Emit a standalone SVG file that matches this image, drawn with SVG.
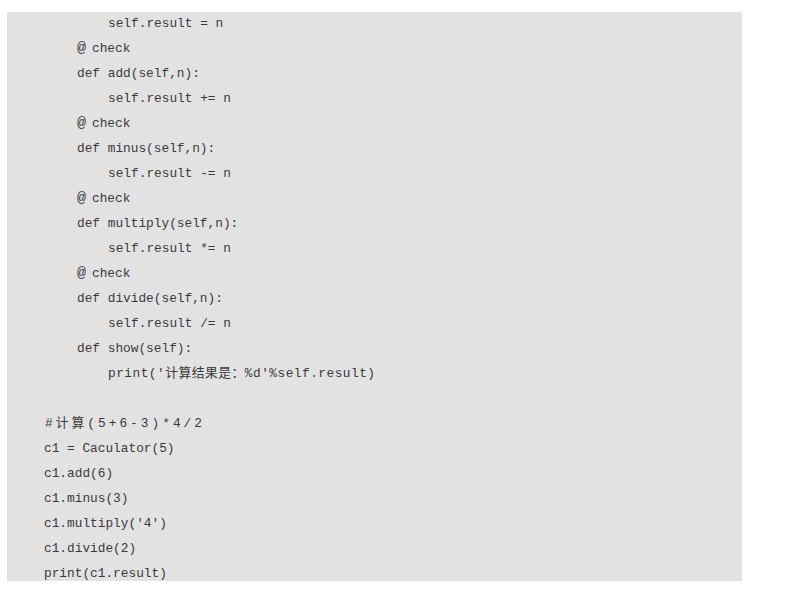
<svg xmlns="http://www.w3.org/2000/svg" width="793" height="610" viewBox="0 0 793 610">
<style>
.bg{fill:#e2e2e2}
.c{font-family:"Liberation Mono","Noto Sans CJK SC",monospace;font-size:12.8px;fill:#3a3a3a}
.at{font-size:15px}
</style>
<rect x="0" y="0" width="793" height="610" fill="#ffffff"/>
<rect class="bg" x="7" y="12" width="735" height="569"/>
<g id="code" xml:space="preserve">
<text class="c" x="108" y="27">self.result = n</text>
<text class="c" x="77" y="52"><tspan class="at">@</tspan><tspan dx="6">check</tspan></text>
<text class="c" x="77" y="77">def add(self,n):</text>
<text class="c" x="108" y="102">self.result += n</text>
<text class="c" x="77" y="127"><tspan class="at">@</tspan><tspan dx="6">check</tspan></text>
<text class="c" x="77" y="152">def minus(self,n):</text>
<text class="c" x="108" y="177">self.result -= n</text>
<text class="c" x="77" y="202"><tspan class="at">@</tspan><tspan dx="6">check</tspan></text>
<text class="c" x="77" y="227">def multiply(self,n):</text>
<text class="c" x="108" y="252">self.result *= n</text>
<text class="c" x="77" y="277"><tspan class="at">@</tspan><tspan dx="6">check</tspan></text>
<text class="c" x="77" y="302">def divide(self,n):</text>
<text class="c" x="108" y="327">self.result /= n</text>
<text class="c" x="77" y="352">def show(self):</text>
<text class="c" x="108" y="377" textLength="267" lengthAdjust="spacing">print('计算结果是：%d'%self.result)</text>
<text class="c" x="45" y="427" textLength="157" lengthAdjust="spacing">#计算(5+6-3)*4/2</text>
<text class="c" x="44" y="452">c1 = Caculator(5)</text>
<text class="c" x="44" y="477">c1.add(6)</text>
<text class="c" x="44" y="502">c1.minus(3)</text>
<text class="c" x="44" y="527">c1.multiply('4')</text>
<text class="c" x="44" y="552">c1.divide(2)</text>
<text class="c" x="44" y="577">print(c1.result)</text>
</g>
</svg>
